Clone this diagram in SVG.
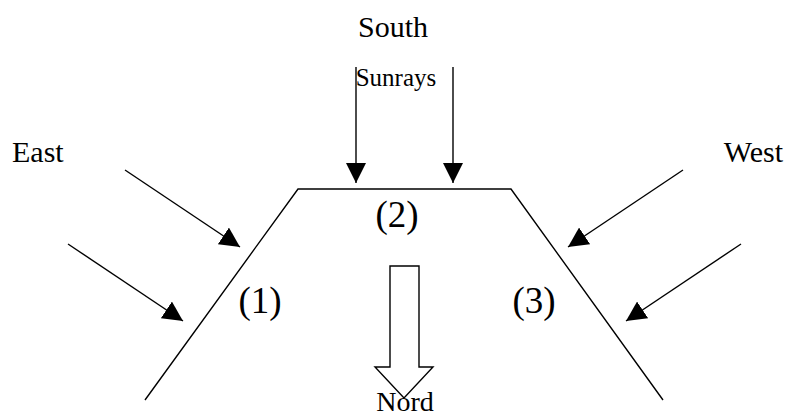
<svg xmlns="http://www.w3.org/2000/svg" width="788" height="417" viewBox="0 0 788 417">
<style>
.t{font-family:"Liberation Serif","Times New Roman",serif;fill:#000}
.ln{stroke:#000;stroke-width:1.4;fill:none}
.ray{stroke:#000;stroke-width:1.4;fill:none;marker-end:url(#ah)}
</style>
<defs>
<marker id="ah" viewBox="0 0 20 20" refX="20" refY="10" markerWidth="20" markerHeight="20" markerUnits="userSpaceOnUse" orient="auto">
<path d="M0,0 L20,10 L0,20 z" fill="#000"/>
</marker>
</defs>
<rect width="788" height="417" fill="#fff"/>
<g id="trapezoid">
<polyline class="ln" points="145,400 298,189 511,189 663,400"/>
</g>
<g id="connectors">
<line class="ray" x1="356" y1="67" x2="356" y2="183"/>
<line class="ray" x1="453" y1="67" x2="453" y2="183"/>
<line class="ray" x1="125" y1="170" x2="240" y2="247"/>
<line class="ray" x1="68" y1="244" x2="183" y2="321"/>
<line class="ray" x1="683" y1="170" x2="568" y2="247"/>
<line class="ray" x1="741" y1="244" x2="626" y2="321"/>
</g>
<g id="nord-arrow">
<polygon points="390,266 419,266 419,367 433,367 404,398 375,367 390,367" fill="#fff" stroke="#000" stroke-width="1.4"/>
</g>
<g id="labels">
<text class="t" x="393" y="37" font-size="30" text-anchor="middle">South</text>
<text class="t" x="396" y="86" font-size="25" text-anchor="middle">Sunrays</text>
<text class="t" x="12" y="162" font-size="30">East</text>
<text class="t" x="783" y="162" font-size="30" text-anchor="end">West</text>
<text class="t" x="397" y="227" font-size="37" text-anchor="middle">(2)</text>
<text class="t" x="260" y="313" font-size="37" text-anchor="middle">(1)</text>
<text class="t" x="534" y="313" font-size="37" text-anchor="middle">(3)</text>
<text class="t" x="405" y="411" font-size="28" text-anchor="middle">Nord</text>
</g>
</svg>
